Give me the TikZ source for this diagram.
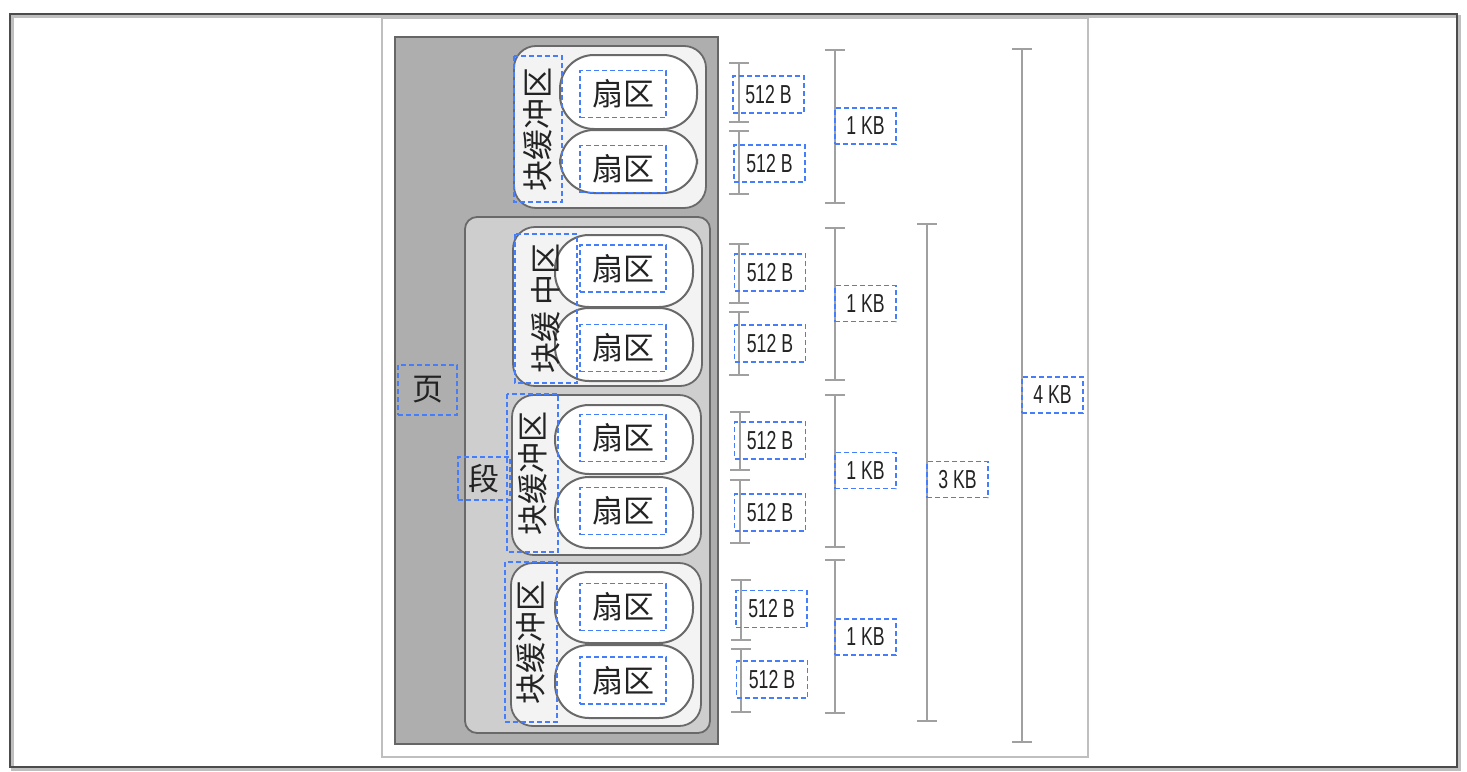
\documentclass[tikz,border=0pt]{standalone}
\usepackage{fontspec}
\usetikzlibrary{arrows.meta}
\newfontfamily\cjk{Noto Sans CJK SC}
\newfontfamily\condf[FakeStretch=0.68]{Liberation Sans}
\definecolor{pagegray}{RGB}{174,174,174}
\definecolor{seggray}{RGB}{206,206,206}
\definecolor{blockfill}{RGB}{243,243,243}
\definecolor{edgegray}{RGB}{105,105,105}
\definecolor{dimgray}{RGB}{160,160,160}
\definecolor{annot}{RGB}{70,125,250}
\definecolor{txtgray}{RGB}{35,35,35}
\begin{document}
\begin{tikzpicture}[x=0.5pt,y=-0.5pt,
  annobox/.style={draw=annot, dash pattern=on 2.5pt off 1.5pt, line width=0.7pt, inner sep=0pt, text=txtgray},
  zh/.style={annobox, font=\cjk\fontsize{15.5}{16}\selectfont},
  zhv/.style={annobox, font=\cjk\fontsize{15.5}{16}\selectfont, rotate=90},
  sz/.style={annobox, font=\condf\fontsize{13}{14}\selectfont, minimum width=35.5pt, minimum height=18.5pt},
  kb/.style={annobox, font=\condf\fontsize{13}{14}\selectfont, minimum width=30.5pt, minimum height=18pt},
  blockbox/.style={draw=edgegray, line width=0.9pt, fill=blockfill, rounded corners=11pt},
  sector/.style={draw=edgegray, line width=1pt, fill=white, rounded corners=17pt},
  dim/.style={draw=dimgray, line width=1pt, {Bar[width=10pt,line width=1pt]}-{Bar[width=10pt,line width=1pt]}}
]
\useasboundingbox (0,0) rectangle (1467,771);
% outer frame
\draw[black!25, line width=1.5pt] (12,16) rectangle (1459,769);
\draw[black!70, line width=1pt] (10,14) rectangle (1457,767);
% inner panel
\draw[black!25, line width=0.6pt, fill=white] (382,18) rectangle (1088,757);
% page
\draw[draw=black!60, line width=0.8pt, fill=pagegray] (395,37) rectangle (718,744);
% segment
\draw[draw=edgegray, line width=0.9pt, fill=seggray, rounded corners=6pt] (465,217) rectangle (710,733);
% block buffers
\draw[blockbox] (514,46) rectangle (706,208);
\draw[blockbox] (513,227) rectangle (702,386);
\draw[blockbox] (512,395) rectangle (701,555);
\draw[blockbox] (511,563) rectangle (701,726);
% sectors
\draw[sector] (560,55) rectangle (697,129);
\draw[sector] (560,130) rectangle (697,193);
\draw[sector] (555,235) rectangle (693,307);
\draw[sector] (555,308) rectangle (693,381);
\draw[sector] (555,405) rectangle (693,474);
\draw[sector] (555,477) rectangle (693,548);
\draw[sector] (555,572) rectangle (693,643);
\draw[sector] (555,645) rectangle (693,718);
% labels
\node[zh, minimum width=29.5pt, minimum height=25pt] (ye) at (427.5,390) {页};
\node[zh, minimum width=26pt, minimum height=21.5pt] (duan) at (484,478.5) {段};
\node[zhv, minimum width=73pt, minimum height=24pt] (kb1) at (538,129) {块缓冲区};
\node[zhv, minimum width=74.5pt, minimum height=31pt] (kb2) at (546,308.5) {块缓\,中区};
\node[zhv, minimum width=79pt, minimum height=25.5pt] (kb3) at (532.5,473) {块缓冲区};
\node[zhv, minimum width=80pt, minimum height=26pt] (kb4) at (531,642) {块缓冲区};
\foreach \i/\y in {1/94,2/169,3/268.5,4/348,5/438,6/511,7/607,8/680.5}
  \node[zh, minimum width=43pt, minimum height=23.5pt] (s\i) at (623,\y) {扇区};
% dimension bars
\coordinate (a1) at (739,62);  \coordinate (a2) at (739,123);
\coordinate (a3) at (739,130); \coordinate (a4) at (739,195);
\coordinate (a5) at (739,243); \coordinate (a6) at (739,304);
\coordinate (a7) at (739,311); \coordinate (a8) at (739,376);
\coordinate (a9) at (740,411); \coordinate (a10) at (740,471);
\coordinate (a11) at (740,479); \coordinate (a12) at (740,544);
\coordinate (a13) at (741,579); \coordinate (a14) at (741,641);
\coordinate (a15) at (741,648); \coordinate (a16) at (741,713);
\foreach \p/\q in {a1/a2,a3/a4,a5/a6,a7/a8,a9/a10,a11/a12,a13/a14,a15/a16}
  \draw[dim] (\p) -- (\q);
\coordinate (k1) at (835,49);  \coordinate (k2) at (835,204);
\coordinate (k3) at (835,227); \coordinate (k4) at (835,381);
\coordinate (k5) at (835,394); \coordinate (k6) at (835,548);
\coordinate (k7) at (835,559); \coordinate (k8) at (835,714);
\foreach \p/\q in {k1/k2,k3/k4,k5/k6,k7/k8}
  \draw[dim] (\p) -- (\q);
\coordinate (t1) at (927,223); \coordinate (t2) at (927,722);
\draw[dim] (t1) -- (t2);
\coordinate (f1) at (1022,48); \coordinate (f2) at (1022,743);
\draw[dim] (f1) -- (f2);
% size labels
\foreach \i/\x/\y in {1/768.5/94.5,2/769.5/163.5,3/770/272.5,4/770/343.5,5/770/440.5,6/770/512.5,7/771.5/609,8/772/679.5}
  \node[sz] (b\i) at (\x,\y) {512 B};
\foreach \i/\y in {1/126,2/303.5,3/470.5,4/637}
  \node[kb] (kbl\i) at (865.5,\y) {1 KB};
\node[kb] (kb3l) at (957.5,479.5) {3 KB};
\node[kb] (kb4l) at (1052.5,395) {4 KB};
\end{tikzpicture}
\end{document}
